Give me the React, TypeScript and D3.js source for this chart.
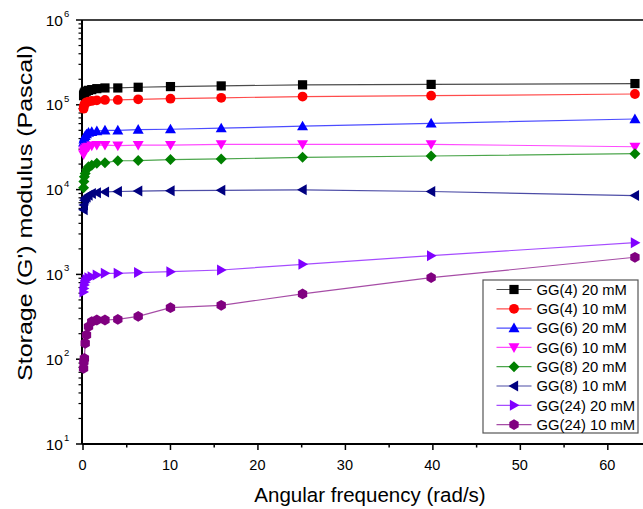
import React from "react";
import * as d3 from "d3";

const freqs = [0.0631, 0.1, 0.158, 0.251, 0.398, 0.631, 1, 1.58, 2.51, 3.98, 6.31, 10, 15.8, 25.1, 39.8, 63.1];

const gg4_20 = [1.28e5, 1.33e5, 1.38e5, 1.42e5, 1.45e5, 1.48e5, 1.51e5, 1.55e5, 1.58e5, 1.58e5, 1.61e5, 1.64e5, 1.67e5, 1.72e5, 1.74e5, 1.78e5];
const gg4_10 = [9.0e4, 9.6e4, 1.0e5, 1.04e5, 1.07e5, 1.09e5, 1.11e5, 1.13e5, 1.14e5, 1.14e5, 1.16e5, 1.18e5, 1.21e5, 1.25e5, 1.28e5, 1.34e5];
const gg6_20 = [3.6e4, 3.9e4, 4.1e4, 4.3e4, 4.5e4, 4.7e4, 4.8e4, 4.9e4, 5.0e4, 5.0e4, 5.1e4, 5.15e4, 5.3e4, 5.6e4, 6.05e4, 6.8e4];
const gg6_10 = [2.6e4, 2.8e4, 2.95e4, 3.05e4, 3.15e4, 3.2e4, 3.3e4, 3.35e4, 3.35e4, 3.3e4, 3.35e4, 3.35e4, 3.42e4, 3.42e4, 3.42e4, 3.2e4];
const gg8_20 = [1.05e4, 1.25e4, 1.42e4, 1.55e4, 1.72e4, 1.86e4, 1.94e4, 2.04e4, 2.08e4, 2.19e4, 2.2e4, 2.26e4, 2.3e4, 2.4e4, 2.49e4, 2.65e4];
const gg8_10 = [5.8e3, 6.6e3, 7.5e3, 7.9e3, 8.2e3, 8.6e3, 9.0e3, 9.2e3, 9.4e3, 9.5e3, 9.6e3, 9.7e3, 9.8e3, 9.95e3, 9.5e3, 8.5e3];
const gg24_20 = [620, 680, 750, 810, 870, 910, 940, 985, 1030, 1030, 1050, 1077, 1127, 1316, 1663, 2366];
const gg24_10 = [78, 93, 102, 154, 193, 242, 277, 290, 290, 295, 320, 405, 432, 588, 915, 1592];

const seriesNames = ["GG(4) 20 mM", "GG(4) 10 mM", "GG(6) 20 mM", "GG(6) 10 mM", "GG(8) 20 mM", "GG(8) 10 mM", "GG(24) 20 mM", "GG(24) 10 mM"];
const seriesValues = [gg4_20, gg4_10, gg6_20, gg6_10, gg8_20, gg8_10, gg24_20, gg24_10];
const seriesColors = ["#000000", "#ff0000", "#0000ff", "#ff00ff", "#008000", "#000080", "#8000ff", "#800080"];
const seriesShapes = ["square", "circle", "up", "down", "diamond", "left", "right", "hexagon"];

const xTicks = [0, 10, 20, 30, 40, 50, 60];
const xMinor = [5, 15, 25, 35, 45, 55];
const yExps = [1, 2, 3, 4, 5, 6];

const W = 643;
const H = 509;
const font = "Liberation Sans, Arial, sans-serif";

function Marker({ shape, x, y, color }: { shape: string; x: number; y: number; color: string }) {
  const s = 4.6;
  let d = "";
  if (shape === "square") {
    return <rect x={x - s} y={y - s} width={2 * s} height={2 * s} fill={color} />;
  }
  if (shape === "circle") {
    return <circle cx={x} cy={y} r={s + 0.3} fill={color} />;
  }
  if (shape === "hexagon") {
    const r = s + 0.8;
    const pts = d3.range(6).map((i) => {
      const a = (Math.PI / 3) * i + Math.PI / 6;
      return `${x + r * Math.cos(a)},${y + r * Math.sin(a)}`;
    });
    return <polygon points={pts.join(" ")} fill={color} />;
  }
  const t = 5.5;
  if (shape === "up") d = `M${x},${y - t} L${x + t},${y + t * 0.75} L${x - t},${y + t * 0.75} Z`;
  if (shape === "down") d = `M${x},${y + t} L${x + t},${y - t * 0.75} L${x - t},${y - t * 0.75} Z`;
  if (shape === "left") d = `M${x - t},${y} L${x + t * 0.75},${y - t} L${x + t * 0.75},${y + t} Z`;
  if (shape === "right") d = `M${x + t},${y} L${x - t * 0.75},${y - t} L${x - t * 0.75},${y + t} Z`;
  if (shape === "diamond") d = `M${x},${y - t} L${x + t},${y} L${x},${y + t} L${x - t},${y} Z`;
  return <path d={d} fill={color} />;
}

export default function App() {
  const left = 82;
  const top = 20;
  const bottom = 444;
  const x = d3.scaleLinear().domain([0, 65]).range([83, 83 + 65 * 8.747]);
  const y = d3.scaleLog().domain([10, 1e6]).range([bottom, top]);

  const line = d3
    .line<[number, number]>()
    .x((d) => x(d[0]))
    .y((d) => y(d[1]));

  const minorY: number[] = [];
  for (let e = 1; e < 6; e++) {
    for (let m = 2; m <= 9; m++) minorY.push(m * Math.pow(10, e));
  }

  const legX = 483;
  const legY = 280;
  const legW = 155;
  const legH = 153;
  const rowH = 19.3;

  return (
    <svg width={W} height={H} style={{ position: "absolute", left: 0, top: 0, background: "#fff" }} fontFamily={font}>
      <defs>
        <clipPath id="plotclip">
          <rect x={left - 8} y={top - 8} width={W - left + 8} height={bottom - top + 16} />
        </clipPath>
      </defs>
      {/* frame */}
      <line x1={left} x2={W} y1={top} y2={top} stroke="#000" strokeWidth={1.5} />
      <line x1={left} x2={W} y1={bottom} y2={bottom} stroke="#000" strokeWidth={2} />
      <line x1={left} x2={left} y1={top} y2={bottom} stroke="#000" strokeWidth={2} />

      {/* x ticks */}
      {xTicks.map((t) => (
        <g key={"xt" + t}>
          <line x1={x(t)} x2={x(t)} y1={bottom} y2={bottom + 6} stroke="#000" strokeWidth={1.5} />
          <text x={x(t) - 0.5} y={470} fontSize={14.5} textAnchor="middle">
            {t}
          </text>
        </g>
      ))}
      {xMinor.map((t) => (
        <line key={"xm" + t} x1={x(t)} x2={x(t)} y1={bottom} y2={bottom + 3.5} stroke="#000" strokeWidth={1.5} />
      ))}

      {/* y ticks */}
      {yExps.map((e) => (
        <g key={"ye" + e}>
          <line x1={left - 6} x2={left} y1={y(Math.pow(10, e))} y2={y(Math.pow(10, e))} stroke="#000" strokeWidth={1.5} />
          <text x={63} y={y(Math.pow(10, e)) + 5.5} fontSize={15.5} textAnchor="end">
            10
          </text>
          <text x={64} y={y(Math.pow(10, e)) - 3} fontSize={9.5}>
            {e}
          </text>
        </g>
      ))}
      {minorY.map((v) => (
        <line key={"ym" + v} x1={left - 3.5} x2={left} y1={y(v)} y2={y(v)} stroke="#000" strokeWidth={1.2} />
      ))}

      {/* axis titles */}
      <text x={370} y={501.5} fontSize={20.5} textAnchor="middle">
        Angular frequency (rad/s)
      </text>
      <text
        transform={`translate(32,213) rotate(-90)`}
        fontSize={20.5}
        textAnchor="middle"
        textLength={336}
        lengthAdjust="spacingAndGlyphs"
      >
        Storage (G') modulus (Pascal)
      </text>

      {/* series */}
      <g clipPath="url(#plotclip)">
        {seriesValues.map((vals, i) => {
          const pts: [number, number][] = vals.map((v, j) => [freqs[j], v]);
          return (
            <g key={"s" + i}>
              <path d={line(pts) || ""} fill="none" stroke={seriesColors[i]} strokeWidth={1.2} strokeOpacity={0.7} />
              {pts.map((p, j) => (
                <Marker key={j} shape={seriesShapes[i]} x={x(p[0])} y={y(p[1])} color={seriesColors[i]} />
              ))}
            </g>
          );
        })}
      </g>

      {/* legend */}
      <rect x={legX} y={legY} width={legW} height={legH} fill="#fff" stroke="#555" strokeWidth={1.2} />
      {seriesNames.map((n, i) => {
        const cy = legY + 9.5 + i * rowH;
        return (
          <g key={"l" + i}>
            <line x1={496.5} x2={531.5} y1={cy} y2={cy} stroke={seriesColors[i]} strokeWidth={1.2} strokeOpacity={0.7} />
            <Marker shape={seriesShapes[i]} x={514} y={cy} color={seriesColors[i]} />
            <text x={536.5} y={cy + 5.2} fontSize={14.8}>
              {n}
            </text>
          </g>
        );
      })}
    </svg>
  );
}
